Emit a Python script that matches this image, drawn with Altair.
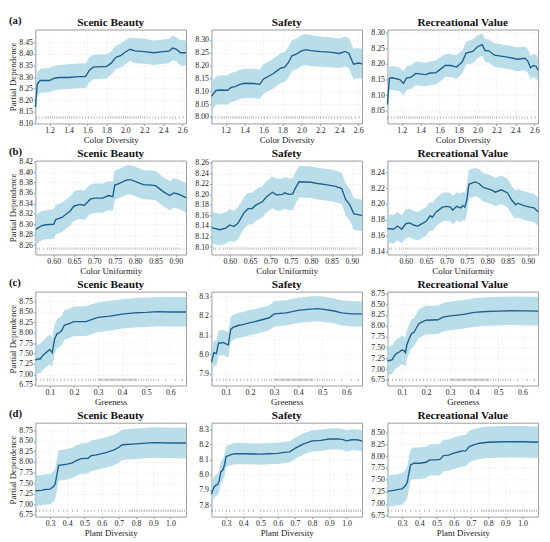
import altair as alt
import pandas as pd

# ---------------- data ----------------
# Row (a): Color Diversity
a_sb_x = [1.05, 1.07, 1.10, 1.20, 1.25, 1.30, 1.40, 1.50, 1.58, 1.62, 1.66, 1.75, 1.80, 1.85, 1.90, 1.95, 2.00, 2.05, 2.10, 2.20, 2.30, 2.40, 2.46, 2.50, 2.54, 2.58, 2.64]
a_sb = [8.17, 8.27, 8.285, 8.285, 8.295, 8.298, 8.298, 8.302, 8.302, 8.33, 8.343, 8.345, 8.345, 8.36, 8.385, 8.392, 8.408, 8.42, 8.413, 8.41, 8.405, 8.41, 8.412, 8.425, 8.42, 8.405, 8.405]
a_sb_hi = [8.21, 8.32, 8.335, 8.34, 8.348, 8.352, 8.355, 8.358, 8.36, 8.385, 8.395, 8.397, 8.398, 8.41, 8.435, 8.445, 8.46, 8.47, 8.468, 8.465, 8.458, 8.462, 8.465, 8.478, 8.472, 8.46, 8.458]
a_sb_lo = [8.12, 8.22, 8.232, 8.235, 8.243, 8.246, 8.248, 8.252, 8.252, 8.278, 8.29, 8.293, 8.293, 8.31, 8.335, 8.34, 8.355, 8.37, 8.36, 8.357, 8.352, 8.357, 8.36, 8.373, 8.368, 8.35, 8.35]

a_sf_x = [1.05, 1.08, 1.10, 1.15, 1.22, 1.26, 1.30, 1.35, 1.40, 1.50, 1.56, 1.60, 1.70, 1.78, 1.82, 1.86, 1.90, 1.95, 2.00, 2.05, 2.10, 2.20, 2.30, 2.40, 2.46, 2.50, 2.55, 2.60, 2.64]
a_sf = [8.08, 8.095, 8.103, 8.105, 8.104, 8.115, 8.118, 8.127, 8.131, 8.13, 8.127, 8.148, 8.168, 8.19, 8.193, 8.21, 8.238, 8.245, 8.257, 8.262, 8.258, 8.254, 8.252, 8.247, 8.255, 8.248, 8.205, 8.21, 8.207]
a_sf_hi = [8.135, 8.15, 8.158, 8.162, 8.162, 8.172, 8.175, 8.184, 8.188, 8.188, 8.185, 8.205, 8.225, 8.248, 8.252, 8.27, 8.298, 8.305, 8.318, 8.323, 8.318, 8.313, 8.31, 8.305, 8.313, 8.307, 8.265, 8.268, 8.265]
a_sf_lo = [8.025, 8.04, 8.048, 8.05, 8.048, 8.058, 8.062, 8.07, 8.074, 8.073, 8.07, 8.09, 8.11, 8.132, 8.135, 8.152, 8.18, 8.186, 8.198, 8.202, 8.198, 8.195, 8.193, 8.19, 8.197, 8.19, 8.148, 8.152, 8.15]

a_rv_x = [1.05, 1.07, 1.10, 1.18, 1.22, 1.25, 1.30, 1.35, 1.45, 1.50, 1.56, 1.62, 1.66, 1.72, 1.78, 1.84, 1.88, 1.95, 2.00, 2.05, 2.08, 2.12, 2.18, 2.25, 2.35, 2.42, 2.50, 2.53, 2.56, 2.59, 2.62, 2.64]
a_rv = [8.07, 8.155, 8.156, 8.15, 8.138, 8.155, 8.158, 8.17, 8.166, 8.171, 8.172, 8.186, 8.195, 8.195, 8.19, 8.207, 8.235, 8.24, 8.255, 8.262, 8.243, 8.242, 8.228, 8.225, 8.22, 8.215, 8.218, 8.21, 8.188, 8.195, 8.192, 8.18]
a_rv_hi = [8.11, 8.192, 8.194, 8.188, 8.176, 8.193, 8.196, 8.208, 8.204, 8.209, 8.21, 8.224, 8.232, 8.232, 8.228, 8.244, 8.272, 8.278, 8.292, 8.298, 8.28, 8.279, 8.266, 8.263, 8.258, 8.253, 8.256, 8.248, 8.226, 8.232, 8.23, 8.218]
a_rv_lo = [8.03, 8.117, 8.118, 8.112, 8.1, 8.117, 8.12, 8.132, 8.128, 8.133, 8.134, 8.148, 8.158, 8.158, 8.152, 8.17, 8.198, 8.202, 8.218, 8.226, 8.206, 8.205, 8.19, 8.187, 8.182, 8.177, 8.18, 8.172, 8.15, 8.158, 8.154, 8.142]

# Row (b): Color Uniformity
b_sb_x = [0.556, 0.57, 0.58, 0.60, 0.605, 0.62, 0.64, 0.65, 0.665, 0.675, 0.69, 0.70, 0.72, 0.735, 0.745, 0.75, 0.76, 0.78, 0.79, 0.80, 0.82, 0.84, 0.85, 0.87, 0.885, 0.895, 0.905, 0.925]
b_sb = [8.290, 8.297, 8.299, 8.30, 8.309, 8.313, 8.325, 8.335, 8.338, 8.336, 8.348, 8.35, 8.35, 8.355, 8.353, 8.375, 8.378, 8.385, 8.385, 8.382, 8.376, 8.375, 8.374, 8.362, 8.355, 8.36, 8.358, 8.351]
b_sb_hi = [8.318, 8.325, 8.327, 8.328, 8.337, 8.341, 8.353, 8.363, 8.366, 8.364, 8.376, 8.378, 8.378, 8.383, 8.381, 8.403, 8.406, 8.413, 8.413, 8.41, 8.404, 8.403, 8.402, 8.39, 8.383, 8.388, 8.386, 8.379]
b_sb_lo = [8.262, 8.269, 8.271, 8.272, 8.281, 8.285, 8.297, 8.307, 8.31, 8.308, 8.32, 8.322, 8.322, 8.327, 8.325, 8.347, 8.35, 8.357, 8.357, 8.354, 8.348, 8.347, 8.346, 8.334, 8.327, 8.332, 8.33, 8.323]

b_sf_x = [0.556, 0.575, 0.59, 0.60, 0.61, 0.62, 0.635, 0.645, 0.655, 0.665, 0.68, 0.69, 0.705, 0.715, 0.73, 0.735, 0.745, 0.755, 0.76, 0.77, 0.80, 0.82, 0.84, 0.86, 0.875, 0.885, 0.895, 0.905, 0.925]
b_sf = [8.137, 8.133, 8.136, 8.142, 8.139, 8.145, 8.165, 8.173, 8.173, 8.18, 8.186, 8.195, 8.204, 8.199, 8.2, 8.203, 8.2, 8.201, 8.21, 8.224, 8.223, 8.22, 8.218, 8.215, 8.211, 8.19, 8.18, 8.163, 8.16]
b_sf_hi = [8.167, 8.163, 8.166, 8.172, 8.169, 8.175, 8.195, 8.203, 8.203, 8.21, 8.216, 8.225, 8.234, 8.229, 8.23, 8.233, 8.23, 8.231, 8.24, 8.254, 8.253, 8.25, 8.248, 8.245, 8.241, 8.22, 8.21, 8.193, 8.19]
b_sf_lo = [8.107, 8.103, 8.106, 8.112, 8.109, 8.115, 8.135, 8.143, 8.143, 8.15, 8.156, 8.165, 8.174, 8.169, 8.17, 8.173, 8.17, 8.171, 8.18, 8.194, 8.193, 8.19, 8.188, 8.185, 8.181, 8.16, 8.15, 8.133, 8.13]

b_rv_x = [0.555, 0.57, 0.58, 0.59, 0.60, 0.61, 0.62, 0.63, 0.64, 0.65, 0.66, 0.665, 0.675, 0.69, 0.70, 0.71, 0.715, 0.725, 0.735, 0.74, 0.745, 0.75, 0.755, 0.77, 0.78, 0.79, 0.81, 0.82, 0.835, 0.85, 0.86, 0.87, 0.875, 0.89, 0.905, 0.915, 0.925]
b_rv = [8.169, 8.168, 8.172, 8.168, 8.175, 8.176, 8.173, 8.172, 8.175, 8.178, 8.185, 8.183, 8.19, 8.196, 8.197, 8.196, 8.192, 8.197, 8.195, 8.198, 8.196, 8.205, 8.225, 8.228, 8.226, 8.221, 8.218, 8.215, 8.218, 8.214, 8.205, 8.199, 8.201, 8.198, 8.196, 8.195, 8.19]
b_rv_hi = [8.187, 8.186, 8.19, 8.186, 8.193, 8.194, 8.191, 8.19, 8.193, 8.196, 8.203, 8.201, 8.208, 8.214, 8.215, 8.214, 8.21, 8.215, 8.213, 8.216, 8.214, 8.223, 8.243, 8.246, 8.244, 8.239, 8.236, 8.233, 8.236, 8.232, 8.223, 8.217, 8.219, 8.216, 8.214, 8.213, 8.208]
b_rv_lo = [8.151, 8.15, 8.154, 8.15, 8.157, 8.158, 8.155, 8.154, 8.157, 8.16, 8.167, 8.165, 8.172, 8.178, 8.179, 8.178, 8.174, 8.179, 8.177, 8.18, 8.178, 8.187, 8.207, 8.21, 8.208, 8.203, 8.2, 8.197, 8.2, 8.196, 8.187, 8.181, 8.183, 8.18, 8.178, 8.177, 8.172]

# Row (c): Greeness
c_sb_x = [0.04, 0.05, 0.06, 0.07, 0.08, 0.09, 0.10, 0.11, 0.12, 0.13, 0.14, 0.15, 0.16, 0.18, 0.20, 0.25, 0.27, 0.30, 0.35, 0.40, 0.45, 0.50, 0.55, 0.60, 0.665]
c_sb = [7.34, 7.37, 7.37, 7.45, 7.50, 7.55, 7.60, 7.52, 7.85, 7.98, 8.00, 8.06, 8.18, 8.22, 8.27, 8.27, 8.31, 8.37, 8.40, 8.45, 8.48, 8.49, 8.51, 8.50, 8.50]
c_sb_hi = [7.69, 7.72, 7.73, 7.80, 7.86, 7.91, 7.96, 7.88, 8.20, 8.33, 8.36, 8.42, 8.54, 8.58, 8.63, 8.64, 8.68, 8.73, 8.77, 8.81, 8.84, 8.85, 8.86, 8.86, 8.86]
c_sb_lo = [6.99, 7.02, 7.02, 7.10, 7.15, 7.20, 7.25, 7.17, 7.50, 7.63, 7.65, 7.71, 7.83, 7.87, 7.92, 7.92, 7.96, 8.02, 8.05, 8.10, 8.13, 8.14, 8.16, 8.15, 8.15]

c_sf_x = [0.04, 0.05, 0.06, 0.07, 0.08, 0.09, 0.10, 0.11, 0.12, 0.13, 0.15, 0.17, 0.20, 0.22, 0.25, 0.28, 0.30, 0.35, 0.40, 0.45, 0.48, 0.50, 0.55, 0.58, 0.62, 0.665]
c_sf = [7.96, 8.01, 8.005, 8.06, 8.06, 8.063, 8.055, 8.05, 8.13, 8.14, 8.15, 8.155, 8.165, 8.17, 8.18, 8.19, 8.21, 8.215, 8.228, 8.235, 8.237, 8.235, 8.225, 8.215, 8.21, 8.21]
c_sf_hi = [8.025, 8.075, 8.07, 8.125, 8.125, 8.128, 8.12, 8.115, 8.195, 8.205, 8.215, 8.22, 8.23, 8.235, 8.245, 8.255, 8.275, 8.28, 8.293, 8.3, 8.302, 8.3, 8.29, 8.28, 8.275, 8.275]
c_sf_lo = [7.895, 7.945, 7.94, 7.995, 7.995, 7.998, 7.99, 7.985, 8.065, 8.075, 8.085, 8.09, 8.1, 8.105, 8.115, 8.125, 8.145, 8.15, 8.163, 8.17, 8.172, 8.17, 8.16, 8.15, 8.145, 8.145]

c_rv_x = [0.04, 0.05, 0.06, 0.07, 0.08, 0.09, 0.10, 0.11, 0.115, 0.12, 0.13, 0.14, 0.15, 0.16, 0.17, 0.18, 0.20, 0.25, 0.27, 0.30, 0.35, 0.40, 0.45, 0.50, 0.55, 0.665]
c_rv = [7.20, 7.20, 7.22, 7.32, 7.37, 7.40, 7.44, 7.42, 7.38, 7.55, 7.70, 7.82, 7.85, 7.95, 8.05, 8.08, 8.13, 8.14, 8.20, 8.23, 8.26, 8.31, 8.33, 8.34, 8.35, 8.34]
c_rv_hi = [7.53, 7.53, 7.55, 7.65, 7.70, 7.73, 7.77, 7.75, 7.71, 7.88, 8.03, 8.15, 8.18, 8.28, 8.38, 8.41, 8.46, 8.47, 8.53, 8.56, 8.59, 8.64, 8.66, 8.67, 8.68, 8.67]
c_rv_lo = [6.87, 6.87, 6.89, 6.99, 7.04, 7.07, 7.11, 7.09, 7.05, 7.22, 7.37, 7.49, 7.52, 7.62, 7.72, 7.75, 7.80, 7.81, 7.87, 7.90, 7.93, 7.98, 8.00, 8.01, 8.02, 8.01]

# Row (d): Plant Diversity
d_sb_x = [0.215, 0.25, 0.27, 0.30, 0.32, 0.33, 0.34, 0.35, 0.40, 0.43, 0.45, 0.48, 0.52, 0.54, 0.57, 0.60, 0.63, 0.65, 0.67, 0.70, 0.72, 0.80, 0.90, 1.00, 1.09]
d_sb = [7.32, 7.33, 7.35, 7.36, 7.42, 7.48, 7.70, 7.92, 7.95, 7.98, 8.03, 8.08, 8.09, 8.15, 8.17, 8.20, 8.23, 8.26, 8.28, 8.35, 8.41, 8.43, 8.46, 8.45, 8.45]
d_sb_hi = [7.68, 7.69, 7.71, 7.72, 7.78, 7.84, 8.06, 8.28, 8.31, 8.34, 8.39, 8.44, 8.45, 8.51, 8.53, 8.56, 8.59, 8.62, 8.64, 8.71, 8.77, 8.79, 8.82, 8.81, 8.81]
d_sb_lo = [6.96, 6.97, 6.99, 7.00, 7.06, 7.12, 7.34, 7.56, 7.59, 7.62, 7.67, 7.72, 7.73, 7.79, 7.81, 7.84, 7.87, 7.90, 7.92, 7.99, 8.05, 8.07, 8.10, 8.09, 8.09]

d_sf_x = [0.215, 0.23, 0.24, 0.25, 0.26, 0.27, 0.28, 0.29, 0.30, 0.32, 0.35, 0.40, 0.50, 0.55, 0.60, 0.65, 0.67, 0.70, 0.75, 0.80, 0.85, 0.90, 0.95, 0.98, 1.00, 1.03, 1.06, 1.09]
d_sf = [7.874, 7.92, 7.93, 7.935, 7.96, 8.02, 8.03, 8.06, 8.12, 8.13, 8.14, 8.14, 8.137, 8.14, 8.142, 8.15, 8.152, 8.175, 8.205, 8.225, 8.228, 8.237, 8.238, 8.233, 8.225, 8.232, 8.232, 8.225]
d_sf_hi = [7.944, 7.99, 8.0, 8.005, 8.03, 8.09, 8.1, 8.13, 8.19, 8.2, 8.21, 8.21, 8.207, 8.21, 8.212, 8.22, 8.222, 8.245, 8.275, 8.295, 8.298, 8.307, 8.308, 8.303, 8.295, 8.302, 8.302, 8.295]
d_sf_lo = [7.804, 7.85, 7.86, 7.865, 7.89, 7.95, 7.96, 7.99, 8.05, 8.06, 8.07, 8.07, 8.067, 8.07, 8.072, 8.08, 8.082, 8.105, 8.135, 8.155, 8.158, 8.167, 8.168, 8.163, 8.155, 8.162, 8.162, 8.155]

d_rv_x = [0.215, 0.25, 0.28, 0.30, 0.32, 0.33, 0.34, 0.35, 0.37, 0.40, 0.44, 0.46, 0.50, 0.52, 0.54, 0.57, 0.60, 0.63, 0.65, 0.67, 0.69, 0.72, 0.75, 0.80, 0.90, 1.00, 1.09]
d_rv = [7.26, 7.28, 7.30, 7.31, 7.38, 7.45, 7.65, 7.82, 7.85, 7.85, 7.87, 7.92, 7.92, 7.93, 8.01, 8.02, 8.06, 8.09, 8.11, 8.11, 8.20, 8.24, 8.27, 8.29, 8.30, 8.30, 8.29]
d_rv_hi = [7.59, 7.61, 7.63, 7.64, 7.71, 7.78, 7.98, 8.15, 8.18, 8.18, 8.20, 8.25, 8.25, 8.26, 8.34, 8.35, 8.39, 8.42, 8.44, 8.44, 8.53, 8.57, 8.60, 8.62, 8.63, 8.63, 8.62]
d_rv_lo = [6.93, 6.95, 6.97, 6.98, 7.05, 7.12, 7.32, 7.49, 7.52, 7.52, 7.54, 7.59, 7.59, 7.60, 7.68, 7.69, 7.73, 7.76, 7.78, 7.78, 7.87, 7.91, 7.94, 7.96, 7.97, 7.97, 7.96]

# rug (observed feature values)
cd_rug = [1.06, 1.09, 1.12, 1.15, 1.17, 1.19, 1.21, 1.23, 1.25, 1.27, 1.29, 1.31, 1.33, 1.35, 1.37, 1.39, 1.41, 1.43, 1.45, 1.47, 1.49, 1.52, 1.55, 1.58, 1.61, 1.64, 1.67, 1.70, 1.73, 1.76, 1.79, 1.82, 1.84, 1.86, 1.88, 1.90, 1.92, 1.94, 1.96, 1.98, 2.00, 2.02, 2.04, 2.06, 2.08, 2.10, 2.12, 2.14, 2.16, 2.18, 2.20, 2.23, 2.26, 2.29, 2.32, 2.35, 2.38, 2.41, 2.44, 2.47, 2.50, 2.53, 2.57, 2.61]
cu_rug = [0.56, 0.565, 0.575, 0.585, 0.59, 0.595, 0.60, 0.605, 0.61, 0.615, 0.62, 0.625, 0.63, 0.635, 0.64, 0.645, 0.65, 0.655, 0.66, 0.665, 0.67, 0.675, 0.68, 0.685, 0.69, 0.695, 0.70, 0.705, 0.71, 0.715, 0.72, 0.725, 0.73, 0.735, 0.74, 0.745, 0.75, 0.755, 0.76, 0.765, 0.77, 0.775, 0.78, 0.785, 0.79, 0.795, 0.80, 0.805, 0.81, 0.815, 0.82, 0.825, 0.83, 0.835, 0.84, 0.845, 0.85, 0.855, 0.86, 0.865, 0.87, 0.875, 0.88, 0.885, 0.89, 0.895, 0.90, 0.905, 0.91, 0.92]
gr_rug = [0.045, 0.06, 0.075, 0.09, 0.10, 0.115, 0.13, 0.145, 0.16, 0.175, 0.19, 0.205, 0.22, 0.235, 0.25, 0.26, 0.27, 0.28, 0.29, 0.30, 0.305, 0.31, 0.315, 0.32, 0.325, 0.33, 0.335, 0.34, 0.345, 0.35, 0.355, 0.36, 0.365, 0.37, 0.375, 0.38, 0.385, 0.39, 0.395, 0.40, 0.405, 0.41, 0.415, 0.42, 0.425, 0.43, 0.435, 0.44, 0.445, 0.45, 0.455, 0.46, 0.47, 0.48, 0.49, 0.50, 0.51, 0.52, 0.53, 0.54, 0.55, 0.58, 0.62, 0.65]
pd_rug = [0.22, 0.24, 0.26, 0.28, 0.30, 0.32, 0.35, 0.38, 0.40, 0.43, 0.46, 0.50, 0.52, 0.54, 0.56, 0.58, 0.60, 0.62, 0.64, 0.66, 0.68, 0.70, 0.72, 0.74, 0.76, 0.77, 0.78, 0.79, 0.80, 0.81, 0.82, 0.83, 0.84, 0.85, 0.86, 0.87, 0.88, 0.89, 0.90, 0.91, 0.92, 0.93, 0.94, 0.95, 0.96, 0.97, 0.98, 0.99, 1.00, 1.01, 1.02, 1.03, 1.04, 1.05, 1.06, 1.07, 1.08]

# axes / labels
titles = ["Scenic Beauty", "Safety", "Recreational Value"]
row_letters = ["(a)", "(b)", "(c)", "(d)"]
x_titles = ["Color Diversity", "Color Uniformity", "Greeness", "Plant Diversity"]
x_domains = [[1.05, 2.64], [0.555, 0.925], [0.04, 0.665], [0.215, 1.09]]
x_ticks = [[1.2, 1.4, 1.6, 1.8, 2.0, 2.2, 2.4, 2.6],
           [0.60, 0.65, 0.70, 0.75, 0.80, 0.85, 0.90],
           [0.1, 0.2, 0.3, 0.4, 0.5, 0.6],
           [0.3, 0.4, 0.5, 0.6, 0.7, 0.8, 0.9, 1.0]]
x_formats = [".1f", ".2f", ".1f", ".1f"]

y_domains = [
    [[8.10, 8.505], [7.975, 8.34], [8.01, 8.31]],
    [[8.242, 8.422], [8.086, 8.264], [8.136, 8.255]],
    [[6.73, 8.99], [7.84, 8.325], [6.62, 8.79]],
    [[6.71, 8.93], [7.724, 8.345], [6.73, 8.70]],
]
y_ticks = [
    [[8.10, 8.15, 8.20, 8.25, 8.30, 8.35, 8.40, 8.45], [8.00, 8.05, 8.10, 8.15, 8.20, 8.25, 8.30], [8.05, 8.10, 8.15, 8.20, 8.25, 8.30]],
    [[8.26, 8.28, 8.30, 8.32, 8.34, 8.36, 8.38, 8.40, 8.42], [8.10, 8.12, 8.14, 8.16, 8.18, 8.20, 8.22, 8.24, 8.26], [8.14, 8.16, 8.18, 8.20, 8.22, 8.24]],
    [[6.75, 7.00, 7.25, 7.50, 7.75, 8.00, 8.25, 8.50, 8.75], [7.9, 8.0, 8.1, 8.2, 8.3], [6.75, 7.00, 7.25, 7.50, 7.75, 8.00, 8.25, 8.50, 8.75]],
    [[6.75, 7.00, 7.25, 7.50, 7.75, 8.00, 8.25, 8.50, 8.75], [7.8, 7.9, 8.0, 8.1, 8.2, 8.3], [6.75, 7.00, 7.25, 7.50, 7.75, 8.00, 8.25, 8.50]],
]
y_formats = [[".2f", ".2f", ".2f"], [".2f", ".2f", ".2f"], [".2f", ".1f", ".2f"], [".2f", ".1f", ".2f"]]

series = [
    [(a_sb_x, a_sb, a_sb_lo, a_sb_hi), (a_sf_x, a_sf, a_sf_lo, a_sf_hi), (a_rv_x, a_rv, a_rv_lo, a_rv_hi)],
    [(b_sb_x, b_sb, b_sb_lo, b_sb_hi), (b_sf_x, b_sf, b_sf_lo, b_sf_hi), (b_rv_x, b_rv, b_rv_lo, b_rv_hi)],
    [(c_sb_x, c_sb, c_sb_lo, c_sb_hi), (c_sf_x, c_sf, c_sf_lo, c_sf_hi), (c_rv_x, c_rv, c_rv_lo, c_rv_hi)],
    [(d_sb_x, d_sb, d_sb_lo, d_sb_hi), (d_sf_x, d_sf, d_sf_lo, d_sf_hi), (d_rv_x, d_rv, d_rv_lo, d_rv_hi)],
]
rugs = [cd_rug, cu_rug, gr_rug, pd_rug]

# ---------------- chart ----------------
FONT = "Liberation Serif"
W, H = 154, 96
BAND = "#add8e6"
LINE = "#1f5f8b"


def panel(r, c):
    xs, ys, lo, hi = series[r][c]
    df = pd.DataFrame({"x": xs, "pd": ys, "lo": lo, "hi": hi})
    xscale = alt.Scale(domain=x_domains[r], nice=False, zero=False)
    xaxis = alt.Axis(values=x_ticks[r], format=x_formats[r], title=x_titles[r])
    yscale = alt.Scale(domain=y_domains[r][c], nice=False, zero=False)
    if c == 0:
        yaxis = alt.Axis(values=y_ticks[r][c], format=y_formats[r][c], title="Partial Dependence")
    else:
        yaxis = alt.Axis(values=y_ticks[r][c], format=y_formats[r][c], title=None)

    band = alt.Chart(df).mark_area(color=BAND, opacity=0.85).encode(
        x=alt.X("x:Q", scale=xscale, axis=xaxis),
        y=alt.Y("lo:Q", scale=yscale, axis=yaxis),
        y2="hi:Q",
    )
    line = alt.Chart(df).mark_line(color=LINE, strokeWidth=1.4).encode(
        x=alt.X("x:Q", scale=xscale, axis=xaxis),
        y=alt.Y("pd:Q", scale=yscale, axis=yaxis),
    )
    rug = alt.Chart(pd.DataFrame({"v": rugs[r]})).mark_tick(
        color="#222", opacity=0.4, thickness=0.7, size=2.5, orient="vertical"
    ).encode(
        x=alt.X("v:Q", scale=xscale, axis=xaxis),
        y=alt.value(H - 6),
    )
    head = alt.Chart(pd.DataFrame({"t": [titles[c]]})).mark_text(
        font=FONT, fontSize=11.5, fontWeight="bold", align="center", baseline="middle", color="#111"
    ).encode(text="t:N", x=alt.value(W / 2), y=alt.value(-7))
    layers = [band, line, rug, head]
    if c == 0:
        lab = alt.Chart(pd.DataFrame({"t": [row_letters[r]]})).mark_text(
            font=FONT, fontSize=11, fontWeight="bold", align="left", baseline="middle", color="#111"
        ).encode(text="t:N", x=alt.value(-27), y=alt.value(-9))
        layers.append(lab)
    return alt.layer(*layers).properties(width=W, height=H)


panels = [panel(r, c) for r in range(4) for c in range(3)]

chart = alt.concat(*panels, columns=3, spacing={"row": 0, "column": 4}, align="each").properties(
    padding={"left": 0, "top": 0, "right": 0, "bottom": 0}
).configure_view(
    stroke="#999", strokeWidth=1
).configure_axis(
    labelFont=FONT, titleFont=FONT, labelFontSize=8, titleFontSize=9,
    labelColor="#222", titleColor="#222", titleFontWeight="normal",
    domain=False, tickSize=2, tickColor="#999",
    gridColor="#e4e4e4", gridDash=[2, 2], gridWidth=0.6,
    labelPadding=1, titlePadding=1,
)

chart.save("out.html", embed_options={"renderer": "svg", "actions": False})
